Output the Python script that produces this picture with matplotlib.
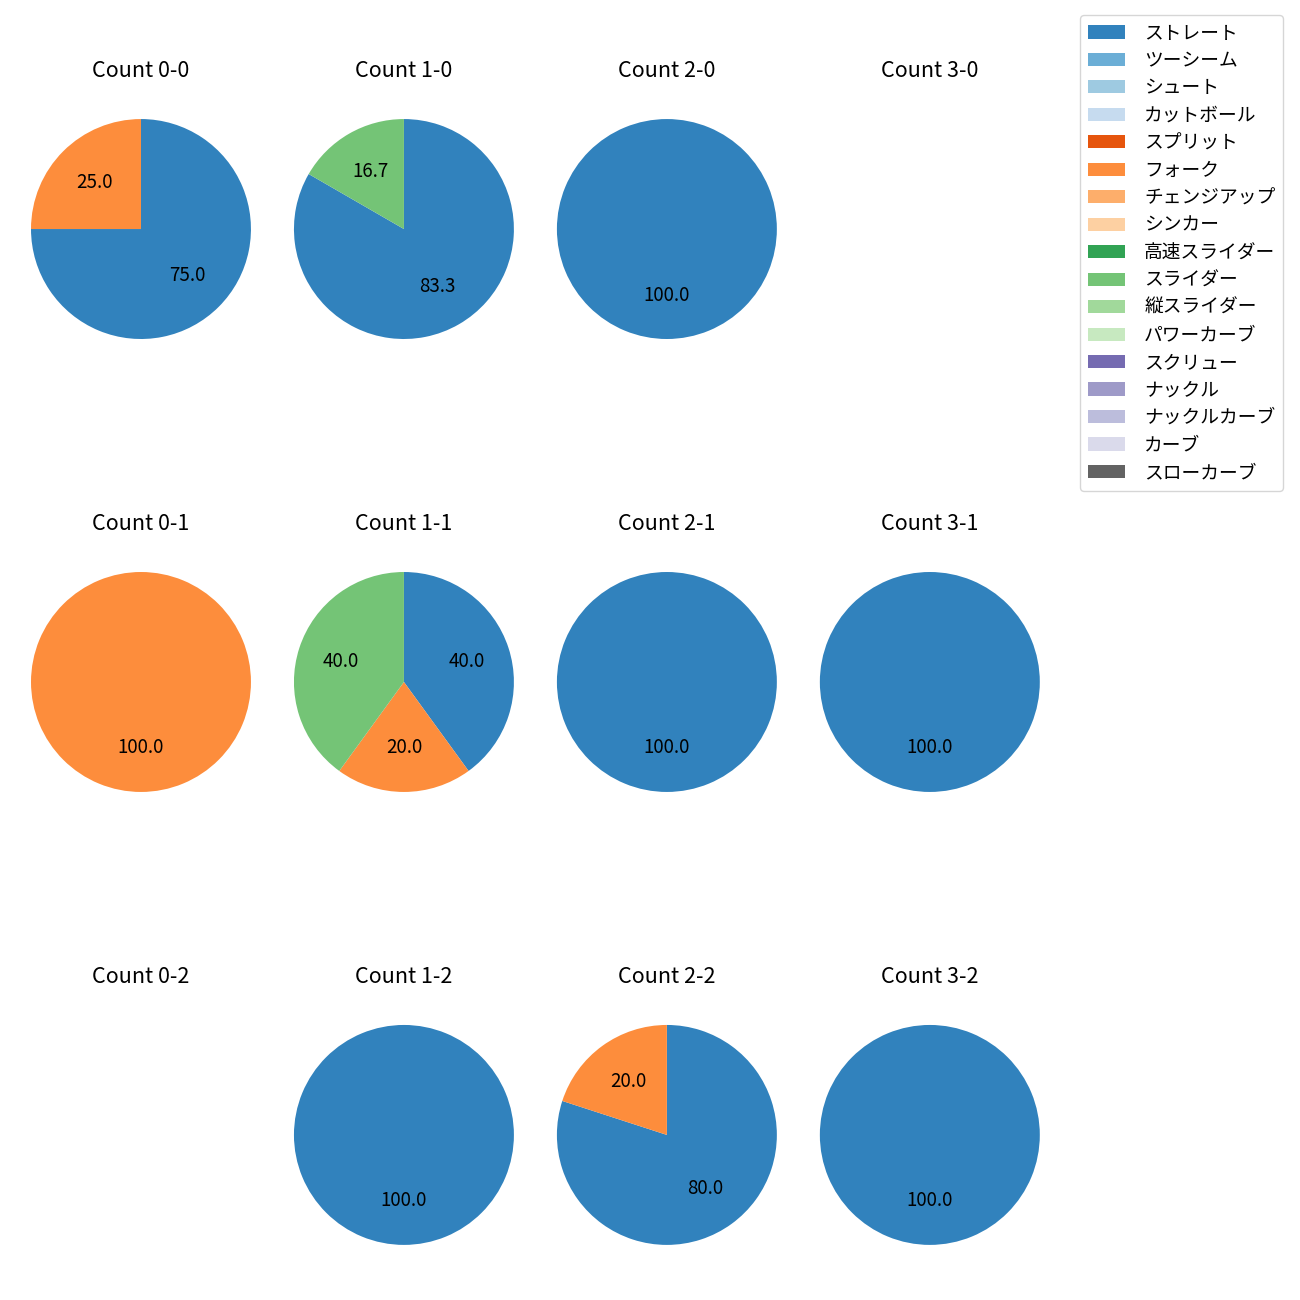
import matplotlib
matplotlib.use('Agg')
import matplotlib.pyplot as plt
from matplotlib.patches import Patch

plt.rcParams['font.family'] = ['Noto Sans CJK JP', 'DejaVu Sans']

pitch_types = ['ストレート', 'ツーシーム', 'シュート', 'カットボール', 'スプリット',
               'フォーク', 'チェンジアップ', 'シンカー', '高速スライダー', 'スライダー',
               '縦スライダー', 'パワーカーブ', 'スクリュー', 'ナックル', 'ナックルカーブ',
               'カーブ', 'スローカーブ']

# pitch counts per ball-strike count: ストレート, フォーク, スライダー
strikes = [0, 1, 2]
balls = [0, 1, 2, 3]
straight = [[3, 5, 1, 0], [0, 2, 1, 1], [0, 1, 4, 1]]
fork = [[1, 0, 0, 0], [1, 1, 0, 0], [0, 0, 1, 0]]
slider = [[0, 1, 0, 0], [0, 2, 0, 0], [0, 0, 0, 0]]

cmap = plt.get_cmap('tab20c')
colors = {name: cmap(i) for i, name in enumerate(pitch_types)}

fig, axes = plt.subplots(3, 4, figsize=(13, 13))
fig.subplots_adjust(left=0.0027, right=0.821, top=0.9296, bottom=0.0212,
                    wspace=-0.0436, hspace=0.647)

for r, s in enumerate(strikes):
    for c, b in enumerate(balls):
        ax = axes[r, c]
        ax.set_title(f'Count {b}-{s}', fontsize=15.5, pad=10.5)
        vals = [straight[r][c], fork[r][c], slider[r][c]]
        names = ['ストレート', 'フォーク', 'スライダー']
        keep = [(v, n) for v, n in zip(vals, names) if v > 0]
        if not keep:
            ax.axis('off')
            continue
        ax.pie([v for v, _ in keep], colors=[colors[n] for _, n in keep],
               startangle=90, counterclock=False, autopct='%.1f',
               textprops={'fontsize': 13.5})
        ax.set_aspect('equal')

handles = [Patch(facecolor=colors[n], label=n) for n in pitch_types]
fig.legend(handles=handles, loc='upper right', bbox_to_anchor=(0.98692, 0.98846),
           borderaxespad=0, fontsize=13.5, labelspacing=0.345,
           handletextpad=1.0)

fig.savefig('out.png', dpi=100)
